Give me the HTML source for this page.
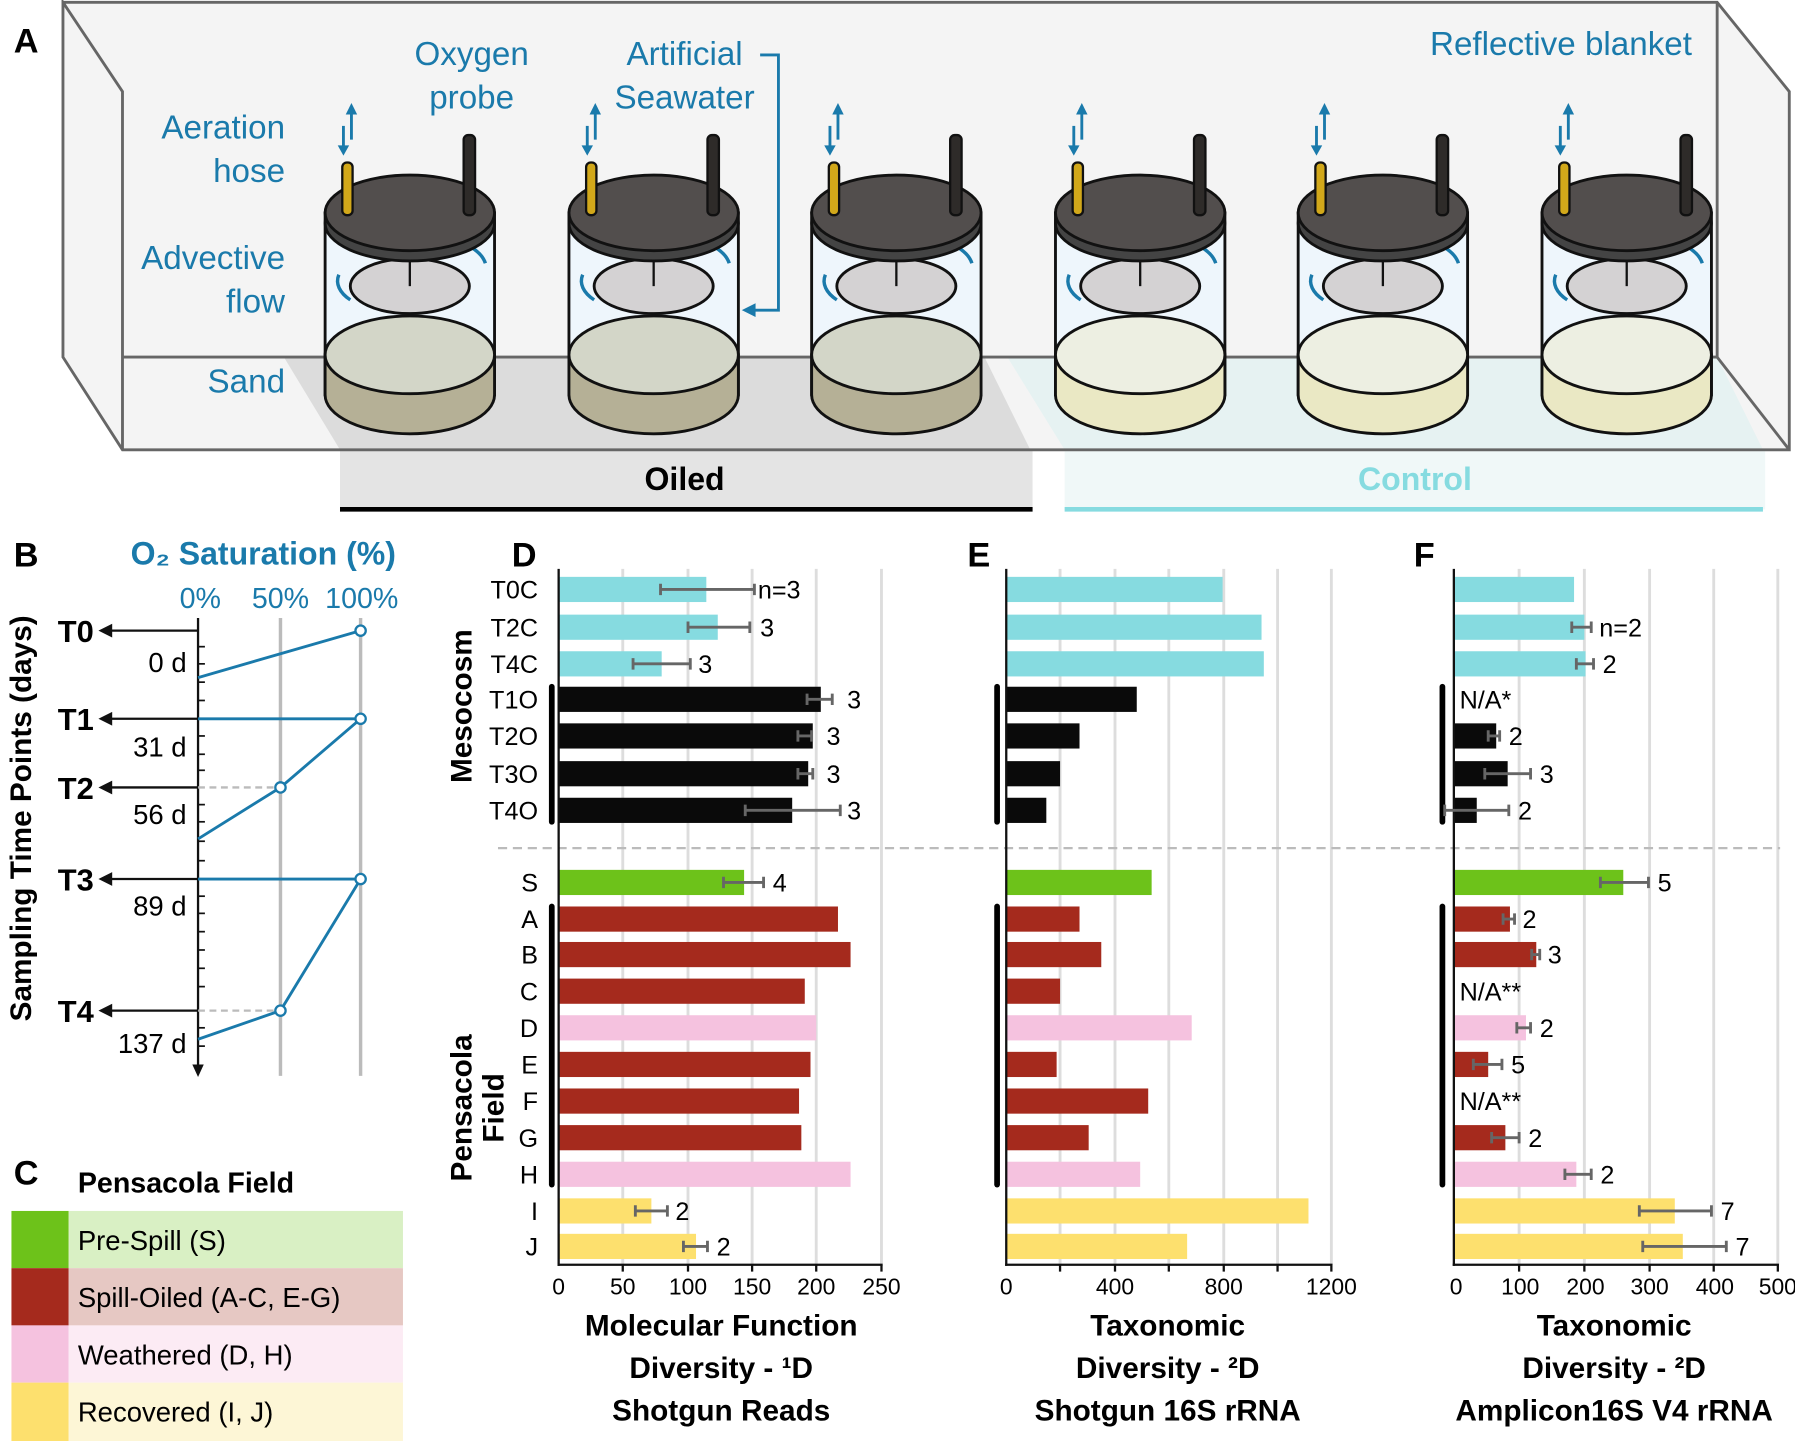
<!DOCTYPE html>
<html><head><meta charset="utf-8"><style>html,body{margin:0;padding:0;background:#fff}svg{display:block}</style></head>
<body>
<svg width="1795" height="1441" viewBox="0 0 1568 1259" preserveAspectRatio="none" xmlns="http://www.w3.org/2000/svg" font-family="Liberation Sans, sans-serif">
<defs>
<g id="cyl">
<rect x="-74" y="186" width="148" height="159" fill="#eef6fc" stroke="#111" stroke-width="2.5"/>
<path d="M-62,240 A58,28 0 0 0 -52,262" fill="none" stroke="#1a7aab" stroke-width="3"/>
<path d="M52,215 A60,30 0 0 1 66,230" fill="none" stroke="#1a7aab" stroke-width="3"/>
<ellipse cx="0" cy="250" rx="52" ry="24" fill="#d4d2d3" stroke="#111" stroke-width="2.5"/>
<line x1="0" y1="222" x2="0" y2="250" stroke="#111" stroke-width="2"/>
<ellipse cx="0" cy="195" rx="74" ry="33" fill="#444" stroke="#111" stroke-width="2.5"/>
<ellipse cx="0" cy="186" rx="74" ry="33" fill="#524e4d" stroke="#111" stroke-width="2.5"/>
<rect x="-59" y="142" width="9" height="46" rx="4" fill="#d2a81a" stroke="#111" stroke-width="2"/>
<rect x="47" y="118" width="10" height="70" rx="4" fill="#2e2b29" stroke="#111" stroke-width="2"/>
<line x1="-58" y1="110" x2="-58" y2="132" stroke="#1a7aab" stroke-width="2.5"/><path d="M-63,127 L-58,136 L-53,127Z" fill="#1a7aab"/>
<line x1="-51" y1="96" x2="-51" y2="122" stroke="#1a7aab" stroke-width="2.5"/><path d="M-56,100 L-51,90 L-46,100Z" fill="#1a7aab"/>
</g>
</defs>
<polygon points="55,2 1500,2 1563,80 1563,393 107,393 55,312" fill="#f4f4f4"/>
<polygon points="248,312 860,312 900,393 297,393" fill="#dcdcdc"/>
<polygon points="880,312 1500,312 1540,393 930,393" fill="#e6f2f2"/>
<rect x="297" y="393" width="605" height="52" fill="#e4e4e4"/>
<rect x="930" y="393" width="612" height="52" fill="#f0f8f8"/>
<g fill="none" stroke="#666" stroke-width="2.5">
<polyline points="55,2 1500,2 1563,80 1563,393 107,393 55,312 55,2 107,80 107,393"/>
<line x1="107" y1="312" x2="1500" y2="312"/><line x1="1500" y1="2" x2="1500" y2="312"/><line x1="1500" y1="312" x2="1563" y2="393"/>
</g>
<line x1="297" y1="445" x2="902" y2="445" stroke="#000" stroke-width="4"/>
<line x1="930" y1="445" x2="1540" y2="445" stroke="#86dbe0" stroke-width="4"/>
<text x="598" y="428" font-size="28" font-weight="bold" text-anchor="middle">Oiled</text>
<text x="1236" y="428" font-size="28" font-weight="bold" text-anchor="middle" fill="#86dbe0">Control</text>
<g>
<use href="#cyl" x="358"/><use href="#cyl" x="571"/><use href="#cyl" x="783"/><use href="#cyl" x="996"/><use href="#cyl" x="1208"/><use href="#cyl" x="1421"/>
</g>
<g stroke="#111" stroke-width="2.5">
<path d="M284,310 L284,345 A74,34 0 0 0 432,345 L432,310Z" fill="#b5b096"/><ellipse cx="358" cy="310" rx="74" ry="34" fill="#d3d6c8"/>
<path d="M497,310 L497,345 A74,34 0 0 0 645,345 L645,310Z" fill="#b5b096"/><ellipse cx="571" cy="310" rx="74" ry="34" fill="#d3d6c8"/>
<path d="M709,310 L709,345 A74,34 0 0 0 857,345 L857,310Z" fill="#b5b096"/><ellipse cx="783" cy="310" rx="74" ry="34" fill="#d3d6c8"/>
<path d="M922,310 L922,345 A74,34 0 0 0 1070,345 L1070,310Z" fill="#eae8c4"/><ellipse cx="996" cy="310" rx="74" ry="34" fill="#edefe2"/>
<path d="M1134,310 L1134,345 A74,34 0 0 0 1282,345 L1282,310Z" fill="#eae8c4"/><ellipse cx="1208" cy="310" rx="74" ry="34" fill="#edefe2"/>
<path d="M1347,310 L1347,345 A74,34 0 0 0 1495,345 L1495,310Z" fill="#eae8c4"/><ellipse cx="1421" cy="310" rx="74" ry="34" fill="#edefe2"/>
</g>
<g fill="#1a7aab" font-size="29">
<text x="249" y="121" text-anchor="end">Aeration</text><text x="249" y="159" text-anchor="end">hose</text>
<text x="249" y="235" text-anchor="end">Advective</text><text x="249" y="273" text-anchor="end">flow</text>
<text x="249" y="343" text-anchor="end">Sand</text>
<text x="412" y="57" text-anchor="middle">Oxygen</text><text x="412" y="95" text-anchor="middle">probe</text>
<text x="598" y="57" text-anchor="middle">Artificial</text><text x="598" y="95" text-anchor="middle">Seawater</text>
<text x="1478" y="48" text-anchor="end">Reflective blanket</text>
</g>
<polyline points="664,48 680,48 680,271 658,271" fill="none" stroke="#1a7aab" stroke-width="2.5"/><path d="M660,265 L648,271 L660,277Z" fill="#1a7aab"/>
<g font-weight="bold" font-size="30">
<text x="12" y="46">A</text><text x="12" y="495">B</text><text x="12" y="1035">C</text>
<text x="447" y="495">D</text><text x="845" y="495">E</text><text x="1235" y="495">F</text>
</g>
<text x="230" y="493" font-size="28" font-weight="bold" fill="#1a7aab" text-anchor="middle">O₂ Saturation (%)</text>
<g font-size="25" fill="#1a7aab" text-anchor="middle"><text x="175" y="531">0%</text><text x="245" y="531">50%</text><text x="316" y="531">100%</text></g>
<line x1="245" y1="540" x2="245" y2="940" stroke="#bbb" stroke-width="3"/>
<line x1="315" y1="540" x2="315" y2="940" stroke="#bbb" stroke-width="3"/>
<line x1="173" y1="540" x2="173" y2="935" stroke="#111" stroke-width="2"/><path d="M168,930 L173,941 L178,930Z" fill="#111"/>
<g stroke="#111" stroke-width="1.5">
<line x1="173" y1="565" x2="179" y2="565"/><line x1="173" y1="580" x2="179" y2="580"/><line x1="173" y1="596" x2="179" y2="596"/><line x1="173" y1="612" x2="179" y2="612"/><line x1="173" y1="643" x2="179" y2="643"/><line x1="173" y1="659" x2="179" y2="659"/><line x1="173" y1="673" x2="179" y2="673"/><line x1="173" y1="703" x2="179" y2="703"/><line x1="173" y1="718" x2="179" y2="718"/><line x1="173" y1="735" x2="179" y2="735"/><line x1="173" y1="752" x2="179" y2="752"/><line x1="173" y1="783" x2="179" y2="783"/><line x1="173" y1="798" x2="179" y2="798"/><line x1="173" y1="814" x2="179" y2="814"/><line x1="173" y1="830" x2="179" y2="830"/><line x1="173" y1="846" x2="179" y2="846"/><line x1="173" y1="862" x2="179" y2="862"/><line x1="173" y1="898" x2="179" y2="898"/><line x1="173" y1="914" x2="179" y2="914"/>
</g>
<g stroke="#bbb" stroke-width="2" stroke-dasharray="6,4"><line x1="173" y1="688" x2="245" y2="688"/><line x1="173" y1="883" x2="245" y2="883"/></g>
<g stroke="#111" stroke-width="2">
<line x1="173" y1="551" x2="90" y2="551"/><line x1="173" y1="628" x2="90" y2="628"/><line x1="173" y1="688" x2="90" y2="688"/><line x1="173" y1="768" x2="90" y2="768"/><line x1="173" y1="883" x2="90" y2="883"/>
</g>
<g fill="#111"><path d="M98,545 L86,551 L98,557Z"/><path d="M98,622 L86,628 L98,634Z"/><path d="M98,682 L86,688 L98,694Z"/><path d="M98,762 L86,768 L98,774Z"/><path d="M98,877 L86,883 L98,889Z"/></g>
<g font-size="27" font-weight="bold" text-anchor="end"><text x="82" y="561">T0</text><text x="82" y="638">T1</text><text x="82" y="698">T2</text><text x="82" y="778">T3</text><text x="82" y="893">T4</text></g>
<g font-size="24" text-anchor="end"><text x="163" y="587">0 d</text><text x="163" y="661">31 d</text><text x="163" y="720">56 d</text><text x="163" y="800">89 d</text><text x="163" y="920">137 d</text></g>
<g fill="none" stroke="#1a7aab" stroke-width="2.5">
<polyline points="173,592 315,551"/><polyline points="173,628 315,628"/><polyline points="173,733 245,688 315,628"/><polyline points="173,768 315,768"/><polyline points="173,908 245,883 315,768"/>
</g>
<g fill="#fff" stroke="#1a7aab" stroke-width="2"><circle cx="315" cy="551" r="4.5"/><circle cx="315" cy="628" r="4.5"/><circle cx="245" cy="688" r="4.5"/><circle cx="315" cy="768" r="4.5"/><circle cx="245" cy="883" r="4.5"/></g>
<text transform="translate(27,715) rotate(-90)" font-size="26" font-weight="bold" text-anchor="middle">Sampling Time Points (days)</text>
<text x="68" y="1042" font-size="25" font-weight="bold">Pensacola Field</text>
<rect x="10" y="1058" width="50" height="50" fill="#6dc21a"/><rect x="60" y="1058" width="292" height="50" fill="#d9f0c4"/>
<rect x="10" y="1108" width="50" height="50" fill="#a52a1d"/><rect x="60" y="1108" width="292" height="50" fill="#e6c8c3"/>
<rect x="10" y="1158" width="50" height="50" fill="#f5c2df"/><rect x="60" y="1158" width="292" height="50" fill="#fcebf4"/>
<rect x="10" y="1208" width="50" height="51" fill="#fde06e"/><rect x="60" y="1208" width="292" height="51" fill="#fdf6d6"/>
<g font-size="24"><text x="68" y="1092">Pre-Spill (S)</text><text x="68" y="1142">Spill-Oiled (A-C, E-G)</text><text x="68" y="1192">Weathered (D, H)</text><text x="68" y="1242">Recovered (I, J)</text></g>
<g stroke="#ddd" stroke-width="2.5">
<line x1="544" y1="497" x2="544" y2="1105"/><line x1="601" y1="497" x2="601" y2="1105"/><line x1="657" y1="497" x2="657" y2="1105"/><line x1="713" y1="497" x2="713" y2="1105"/><line x1="770" y1="497" x2="770" y2="1105"/>
<line x1="926" y1="497" x2="926" y2="1105"/><line x1="974" y1="497" x2="974" y2="1105"/><line x1="1021" y1="497" x2="1021" y2="1105"/><line x1="1069" y1="497" x2="1069" y2="1105"/><line x1="1116" y1="497" x2="1116" y2="1105"/><line x1="1163" y1="497" x2="1163" y2="1105"/>
<line x1="1327" y1="497" x2="1327" y2="1105"/><line x1="1384" y1="497" x2="1384" y2="1105"/><line x1="1441" y1="497" x2="1441" y2="1105"/><line x1="1497" y1="497" x2="1497" y2="1105"/><line x1="1553" y1="497" x2="1553" y2="1105"/>
</g>
<line x1="435" y1="741" x2="1555" y2="741" stroke="#bbb" stroke-width="2" stroke-dasharray="8,5"/>
<g font-size="22" text-anchor="end">
<text x="470" y="523">T0C</text><text x="470" y="556">T2C</text><text x="470" y="588">T4C</text><text x="470" y="619">T1O</text><text x="470" y="651">T2O</text><text x="470" y="684">T3O</text><text x="470" y="716">T4O</text>
<text x="470" y="779">S</text><text x="470" y="811">A</text><text x="470" y="842">B</text><text x="470" y="874">C</text><text x="470" y="906">D</text><text x="470" y="938">E</text><text x="470" y="970">F</text><text x="470" y="1002">G</text><text x="470" y="1034">H</text><text x="470" y="1066">I</text><text x="470" y="1097">J</text>
</g>
<text transform="translate(412,617) rotate(-90)" font-size="26" font-weight="bold" text-anchor="middle">Mesocosm</text>
<text transform="translate(412,968) rotate(-90)" font-size="26" font-weight="bold" text-anchor="middle"><tspan x="0" dy="0">Pensacola</tspan><tspan x="0" dy="28">Field</tspan></text>
<g stroke="#000" stroke-width="5" stroke-linecap="round">
<line x1="482" y1="600" x2="482" y2="718"/><line x1="482" y1="792" x2="482" y2="1035"/>
<line x1="871" y1="600" x2="871" y2="718"/><line x1="871" y1="792" x2="871" y2="1035"/>
<line x1="1260" y1="600" x2="1260" y2="718"/><line x1="1260" y1="792" x2="1260" y2="1035"/>
</g>
<g>
<rect x="488" y="504" width="129" height="22" fill="#86dbe0"/><rect x="488" y="537" width="139" height="22" fill="#86dbe0"/><rect x="488" y="569" width="90" height="22" fill="#86dbe0"/>
<rect x="488" y="600" width="229" height="22" fill="#0a0a0a"/><rect x="488" y="632" width="222" height="22" fill="#0a0a0a"/><rect x="488" y="665" width="218" height="22" fill="#0a0a0a"/><rect x="488" y="697" width="204" height="22" fill="#0a0a0a"/>
<rect x="488" y="760" width="162" height="22" fill="#6dc21a"/><rect x="488" y="792" width="244" height="22" fill="#a52a1d"/><rect x="488" y="823" width="255" height="22" fill="#a52a1d"/><rect x="488" y="855" width="215" height="22" fill="#a52a1d"/><rect x="488" y="887" width="225" height="22" fill="#f5c2df"/><rect x="488" y="919" width="220" height="22" fill="#a52a1d"/><rect x="488" y="951" width="210" height="22" fill="#a52a1d"/><rect x="488" y="983" width="212" height="22" fill="#a52a1d"/><rect x="488" y="1015" width="255" height="22" fill="#f5c2df"/><rect x="488" y="1047" width="81" height="22" fill="#fde06e"/><rect x="488" y="1078" width="120" height="22" fill="#fde06e"/>
</g>
<g>
<rect x="879" y="504" width="189" height="22" fill="#86dbe0"/><rect x="879" y="537" width="223" height="22" fill="#86dbe0"/><rect x="879" y="569" width="225" height="22" fill="#86dbe0"/>
<rect x="879" y="600" width="114" height="22" fill="#0a0a0a"/><rect x="879" y="632" width="64" height="22" fill="#0a0a0a"/><rect x="879" y="665" width="47" height="22" fill="#0a0a0a"/><rect x="879" y="697" width="35" height="22" fill="#0a0a0a"/>
<rect x="879" y="760" width="127" height="22" fill="#6dc21a"/><rect x="879" y="792" width="64" height="22" fill="#a52a1d"/><rect x="879" y="823" width="83" height="22" fill="#a52a1d"/><rect x="879" y="855" width="47" height="22" fill="#a52a1d"/><rect x="879" y="887" width="162" height="22" fill="#f5c2df"/><rect x="879" y="919" width="44" height="22" fill="#a52a1d"/><rect x="879" y="951" width="124" height="22" fill="#a52a1d"/><rect x="879" y="983" width="72" height="22" fill="#a52a1d"/><rect x="879" y="1015" width="117" height="22" fill="#f5c2df"/><rect x="879" y="1047" width="264" height="22" fill="#fde06e"/><rect x="879" y="1078" width="158" height="22" fill="#fde06e"/>
</g>
<g>
<rect x="1270" y="504" width="105" height="22" fill="#86dbe0"/><rect x="1270" y="537" width="114" height="22" fill="#86dbe0"/><rect x="1270" y="569" width="115" height="22" fill="#86dbe0"/>
<rect x="1270" y="632" width="37" height="22" fill="#0a0a0a"/><rect x="1270" y="665" width="47" height="22" fill="#0a0a0a"/><rect x="1270" y="697" width="20" height="22" fill="#0a0a0a"/>
<rect x="1270" y="760" width="148" height="22" fill="#6dc21a"/><rect x="1270" y="792" width="49" height="22" fill="#a52a1d"/><rect x="1270" y="823" width="72" height="22" fill="#a52a1d"/><rect x="1270" y="887" width="63" height="22" fill="#f5c2df"/><rect x="1270" y="919" width="30" height="22" fill="#a52a1d"/><rect x="1270" y="983" width="45" height="22" fill="#a52a1d"/><rect x="1270" y="1015" width="107" height="22" fill="#f5c2df"/><rect x="1270" y="1047" width="193" height="22" fill="#fde06e"/><rect x="1270" y="1078" width="200" height="22" fill="#fde06e"/>
</g>
<g stroke="#111" stroke-width="2">
<line x1="488" y1="497" x2="488" y2="1106"/><line x1="487" y1="1105" x2="771" y2="1105"/>
<line x1="879" y1="497" x2="879" y2="1106"/><line x1="878" y1="1105" x2="1164" y2="1105"/>
<line x1="1270" y1="497" x2="1270" y2="1106"/><line x1="1269" y1="1105" x2="1554" y2="1105"/>
<line x1="544" y1="1105" x2="544" y2="1111"/><line x1="601" y1="1105" x2="601" y2="1111"/><line x1="657" y1="1105" x2="657" y2="1111"/><line x1="713" y1="1105" x2="713" y2="1111"/><line x1="770" y1="1105" x2="770" y2="1111"/>
<line x1="926" y1="1105" x2="926" y2="1111"/><line x1="974" y1="1105" x2="974" y2="1111"/><line x1="1021" y1="1105" x2="1021" y2="1111"/><line x1="1069" y1="1105" x2="1069" y2="1111"/><line x1="1116" y1="1105" x2="1116" y2="1111"/><line x1="1163" y1="1105" x2="1163" y2="1111"/>
<line x1="1327" y1="1105" x2="1327" y2="1111"/><line x1="1384" y1="1105" x2="1384" y2="1111"/><line x1="1441" y1="1105" x2="1441" y2="1111"/><line x1="1497" y1="1105" x2="1497" y2="1111"/><line x1="1553" y1="1105" x2="1553" y2="1111"/>
</g>
<g font-size="20" text-anchor="middle">
<text x="488" y="1131">0</text><text x="544" y="1131">50</text><text x="601" y="1131">100</text><text x="657" y="1131">150</text><text x="713" y="1131">200</text><text x="770" y="1131">250</text>
<text x="879" y="1131">0</text><text x="974" y="1131">400</text><text x="1069" y="1131">800</text><text x="1163" y="1131">1200</text>
<text x="1272" y="1131">0</text><text x="1328" y="1131">100</text><text x="1385" y="1131">200</text><text x="1441" y="1131">300</text><text x="1498" y="1131">400</text><text x="1553" y="1131">500</text>
</g>
<g stroke="#666" stroke-width="2.5">
<path d="M577,515H659M577,510V520M659,510V520"/><path d="M601,548H655M601,543V553M655,543V553"/><path d="M553,580H603M553,575V585M603,575V585"/>
<path d="M705,611H727M705,606V616M727,606V616"/><path d="M697,643H709M697,638V648M709,638V648"/><path d="M697,676H710M697,671V681M710,671V681"/><path d="M651,708H734M651,703V713M734,703V713"/>
<path d="M632,771H667M632,766V776M667,766V776"/><path d="M555,1058H583M555,1053V1063M583,1053V1063"/><path d="M597,1089H618M597,1084V1094M618,1084V1094"/>
<path d="M1373,548H1390M1373,543V553M1390,543V553"/><path d="M1377,580H1392M1377,575V585M1392,575V585"/>
<path d="M1300,643H1310M1300,638V648M1310,638V648"/><path d="M1297,676H1337M1297,671V681M1337,671V681"/><path d="M1262,708H1318M1262,703V713M1318,703V713"/>
<path d="M1398,771H1440M1398,766V776M1440,766V776"/><path d="M1313,803H1323M1313,798V808M1323,798V808"/><path d="M1338,834H1345M1338,829V839M1345,829V839"/>
<path d="M1325,898H1337M1325,893V903M1337,893V903"/><path d="M1287,930H1312M1287,925V935M1312,925V935"/><path d="M1303,994H1327M1303,989V999M1327,989V999"/><path d="M1367,1026H1390M1367,1021V1031M1390,1021V1031"/>
<path d="M1432,1058H1495M1432,1053V1063M1495,1053V1063"/><path d="M1435,1089H1508M1435,1084V1094M1508,1084V1094"/>
</g>
<g font-size="22">
<text x="662" y="523">n=3</text><text x="664" y="556">3</text><text x="610" y="588">3</text><text x="740" y="619">3</text><text x="722" y="651">3</text><text x="722" y="684">3</text><text x="740" y="716">3</text>
<text x="675" y="779">4</text><text x="590" y="1066">2</text><text x="626" y="1097">2</text>
<text x="1397" y="556">n=2</text><text x="1400" y="588">2</text><text x="1275" y="619">N/A*</text><text x="1318" y="651">2</text><text x="1345" y="684">3</text><text x="1326" y="716">2</text>
<text x="1448" y="779">5</text><text x="1330" y="811">2</text><text x="1352" y="842">3</text><text x="1275" y="874">N/A**</text><text x="1345" y="906">2</text><text x="1320" y="938">5</text><text x="1275" y="970">N/A**</text><text x="1335" y="1002">2</text><text x="1398" y="1034">2</text><text x="1503" y="1066">7</text><text x="1516" y="1097">7</text>
</g>
<g font-size="26" font-weight="bold" text-anchor="middle">
<text x="630" y="1167">Molecular Function</text><text x="630" y="1204">Diversity - ¹D</text><text x="630" y="1241">Shotgun Reads</text>
<text x="1020" y="1167">Taxonomic</text><text x="1020" y="1204">Diversity - ²D</text><text x="1020" y="1241">Shotgun 16S rRNA</text>
<text x="1410" y="1167">Taxonomic</text><text x="1410" y="1204">Diversity - ²D</text><text x="1410" y="1241">Amplicon16S V4 rRNA</text>
</g>
</svg>
</body></html>
